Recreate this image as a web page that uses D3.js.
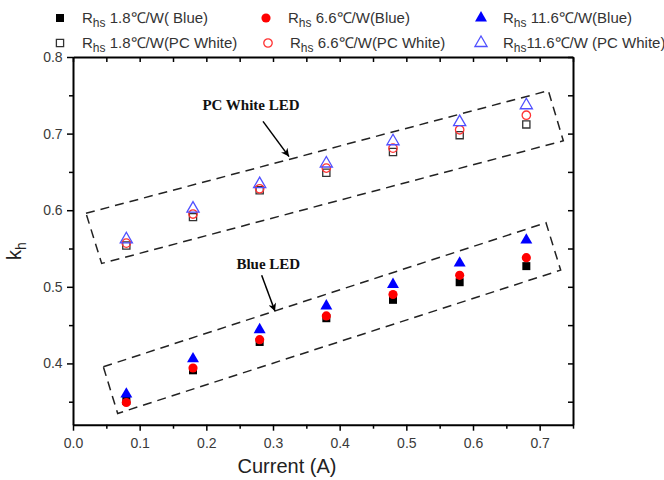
<!DOCTYPE html>
<html><head><meta charset="utf-8">
<script src="https://cdn.jsdelivr.net/npm/d3@7"></script>
<style>body{margin:0;background:#fff}</style>
</head><body>
<svg id="c" width="664" height="480"></svg>
<script>
const currents = [0.08, 0.18, 0.28, 0.38, 0.48, 0.58, 0.68];
const blue18  = [0.351, 0.391, 0.428, 0.459, 0.483, 0.506, 0.527];
const blue66  = [0.349, 0.394, 0.431, 0.462, 0.490, 0.515, 0.538];
const blue116 = [0.360, 0.406, 0.444, 0.475, 0.503, 0.531, 0.561];
const white18  = [0.554, 0.591, 0.626, 0.649, 0.676, 0.698, 0.712];
const white66  = [0.557, 0.595, 0.628, 0.655, 0.681, 0.705, 0.724];
const white116 = [0.562, 0.602, 0.634, 0.661, 0.690, 0.715, 0.737];
const xTicks = [0, 0.1, 0.2, 0.3, 0.4, 0.5, 0.6, 0.7];
const yTicks = [0.4, 0.5, 0.6, 0.7, 0.8];
const legendNames = ["1.8\u2103/W( Blue)", "6.6\u2103/W(Blue)", "11.6\u2103/W(Blue)",
  "1.8\u2103/W(PC White)", "6.6\u2103/W(PC White)", "11.6\u2103/W (PC White)"];
// annotation boxes (data units)
const whiteBox = [[0.0195,0.596],[0.713,0.756],[0.7355,0.6906],[0.043,0.5305]];
const blueBox  = [[0.0455,0.3956],[0.7095,0.5836],[0.7315,0.5218],[0.067,0.3347]];

const svg = d3.select("#c");
const x = d3.scaleLinear().domain([0, 0.75]).range([73, 573]);
const y = d3.scaleLinear().domain([0.32, 0.8]).range([424.7, 57]);

const series = [
  {vals: blue18,  shape: d3.symbolSquare,   size: 64, fill: "#000", stroke: "none"},
  {vals: blue66,  shape: d3.symbolCircle,   size: 66, fill: "#f00", stroke: "none"},
  {vals: blue116, shape: d3.symbolTriangle, size: 62, fill: "#00f", stroke: "none"},
  {vals: white18,  shape: d3.symbolSquare,   size: 52, fill: "none", stroke: "#333"},
  {vals: white66,  shape: d3.symbolCircle,   size: 56, fill: "none", stroke: "#ff3333"},
  {vals: white116, shape: d3.symbolTriangle, size: 64, fill: "none", stroke: "#5050ff"}
];

// axes
const axG = svg.append("g").attr("font-family","Liberation Sans, Arial, sans-serif");
const xMinor = d3.range(0, 0.751, 0.05);
const yMinor = d3.range(0.35, 0.801, 0.05);
const bottom = axG.append("g").attr("transform",`translate(0,${y.range()[0]})`)
  .call(d3.axisBottom(x).tickValues(xTicks).tickFormat(d3.format(".1f")).tickSize(6).tickSizeOuter(0));
const left = axG.append("g").attr("transform",`translate(${x.range()[0]},0)`)
  .call(d3.axisLeft(y).tickValues(yTicks).tickFormat(d3.format(".1f")).tickSize(6).tickSizeOuter(0));
// minor ticks
axG.append("g").attr("transform",`translate(0,${y.range()[0]})`)
  .call(d3.axisBottom(x).tickValues(xMinor.filter((d,i)=>i%2===1)).tickFormat("").tickSize(4).tickSizeOuter(0))
  .select(".domain").remove();
axG.append("g").attr("transform",`translate(${x.range()[0]},0)`)
  .call(d3.axisLeft(y).tickValues(yMinor.filter((d,i)=>i%2===0)).tickFormat("").tickSize(4).tickSizeOuter(0))
  .select(".domain").remove();
// top and right mirror, inward ticks
axG.append("g").attr("transform",`translate(0,${y.range()[1]})`)
  .call(d3.axisBottom(x).tickValues(xMinor).tickFormat("").tickSize(5).tickSizeOuter(0));
axG.append("g").attr("transform",`translate(${x.range()[1]},0)`)
  .call(d3.axisLeft(y).tickValues(yMinor).tickFormat("").tickSize(5).tickSizeOuter(0));
axG.selectAll(".domain").attr("stroke","#000").attr("stroke-width",2);
axG.selectAll(".tick line").attr("stroke","#000").attr("stroke-width",1.5);
axG.selectAll(".tick text").attr("font-size",14).attr("fill","#3a3a3a");
bottom.selectAll(".tick text").attr("dy","1.0em");
left.selectAll(".tick text").attr("dx","-0.1em");

// axis titles
svg.append("text").attr("x", 287).attr("y", 473).attr("text-anchor","middle")
  .attr("font-family","Liberation Sans, Arial, sans-serif").attr("font-size",20).attr("fill","#222")
  .text("Current (A)");
const yl = svg.append("text").attr("transform","translate(21,260) rotate(-90)")
  .attr("font-family","Liberation Sans, Arial, sans-serif").attr("font-size",20).attr("fill","#222");
yl.append("tspan").text("k");
yl.append("tspan").attr("font-size",14).attr("dy",5).text("h");

// annotation boxes
const line = d3.line().x(d=>x(d[0])).y(d=>y(d[1])).curve(d3.curveLinearClosed);
[whiteBox, blueBox].forEach(b => {
  svg.append("path").attr("d", line(b)).attr("fill","none").attr("stroke","#222")
    .attr("stroke-width",1.5).attr("stroke-dasharray","9,6");
});

// arrows
svg.append("defs").append("marker").attr("id","ah").attr("viewBox","0 0 10 10")
  .attr("refX",10).attr("refY",5).attr("markerWidth",10).attr("markerHeight",8)
  .attr("markerUnits","userSpaceOnUse").attr("orient","auto")
  .append("path").attr("d","M0,0 L10,5 L0,10 L3,5 Z").attr("fill","#000");
const arrows = [
  {from:[0.285,0.716], to:[0.324,0.670]},
  {from:[0.283,0.515], to:[0.303,0.468]}
];
arrows.forEach(a => {
  svg.append("line").attr("x1",x(a.from[0])).attr("y1",y(a.from[1]))
    .attr("x2",x(a.to[0])).attr("y2",y(a.to[1]))
    .attr("stroke","#000").attr("stroke-width",1.5).attr("marker-end","url(#ah)");
});
const annF = "Liberation Serif, Times New Roman, serif";
svg.append("text").attr("x", x(0.267)).attr("y", y(0.731)).attr("text-anchor","middle")
  .attr("font-family",annF).attr("font-weight","bold").attr("font-size",15).attr("fill","#111")
  .text("PC White LED");
svg.append("text").attr("x", x(0.293)).attr("y", y(0.523)).attr("text-anchor","middle")
  .attr("font-family",annF).attr("font-weight","bold").attr("font-size",15).attr("fill","#111")
  .text("Blue LED");

// data points
series.forEach(s => {
  svg.append("g").selectAll("path").data(s.vals).join("path")
    .attr("transform",(d,i)=>`translate(${x(currents[i])},${y(d)})`)
    .attr("d", d3.symbol(s.shape, s.size)())
    .attr("fill", s.fill).attr("stroke", s.stroke).attr("stroke-width", 1.3);
});

// legend
const legPos = [[60,18],[266,18],[481,18],[60,43],[268,43],[481,43]];
const lg = svg.append("g").attr("font-family","Liberation Sans, Arial, sans-serif");
series.forEach((s,i) => {
  const [lx, ly] = legPos[i];
  lg.append("path").attr("transform",`translate(${lx},${ly})`)
    .attr("d", d3.symbol(s.shape, s.size)())
    .attr("fill", s.fill).attr("stroke", s.stroke).attr("stroke-width",1.3);
  const t = lg.append("text").attr("x", lx + 22).attr("y", ly + 5).attr("font-size",15).attr("fill","#333");
  t.append("tspan").text("R");
  t.append("tspan").attr("font-size",12).attr("dy",4).text("hs");
  t.append("tspan").attr("dy",-4).text((i===5 ? "" : " ") + legendNames[i]);
});
</script>
</body></html>
